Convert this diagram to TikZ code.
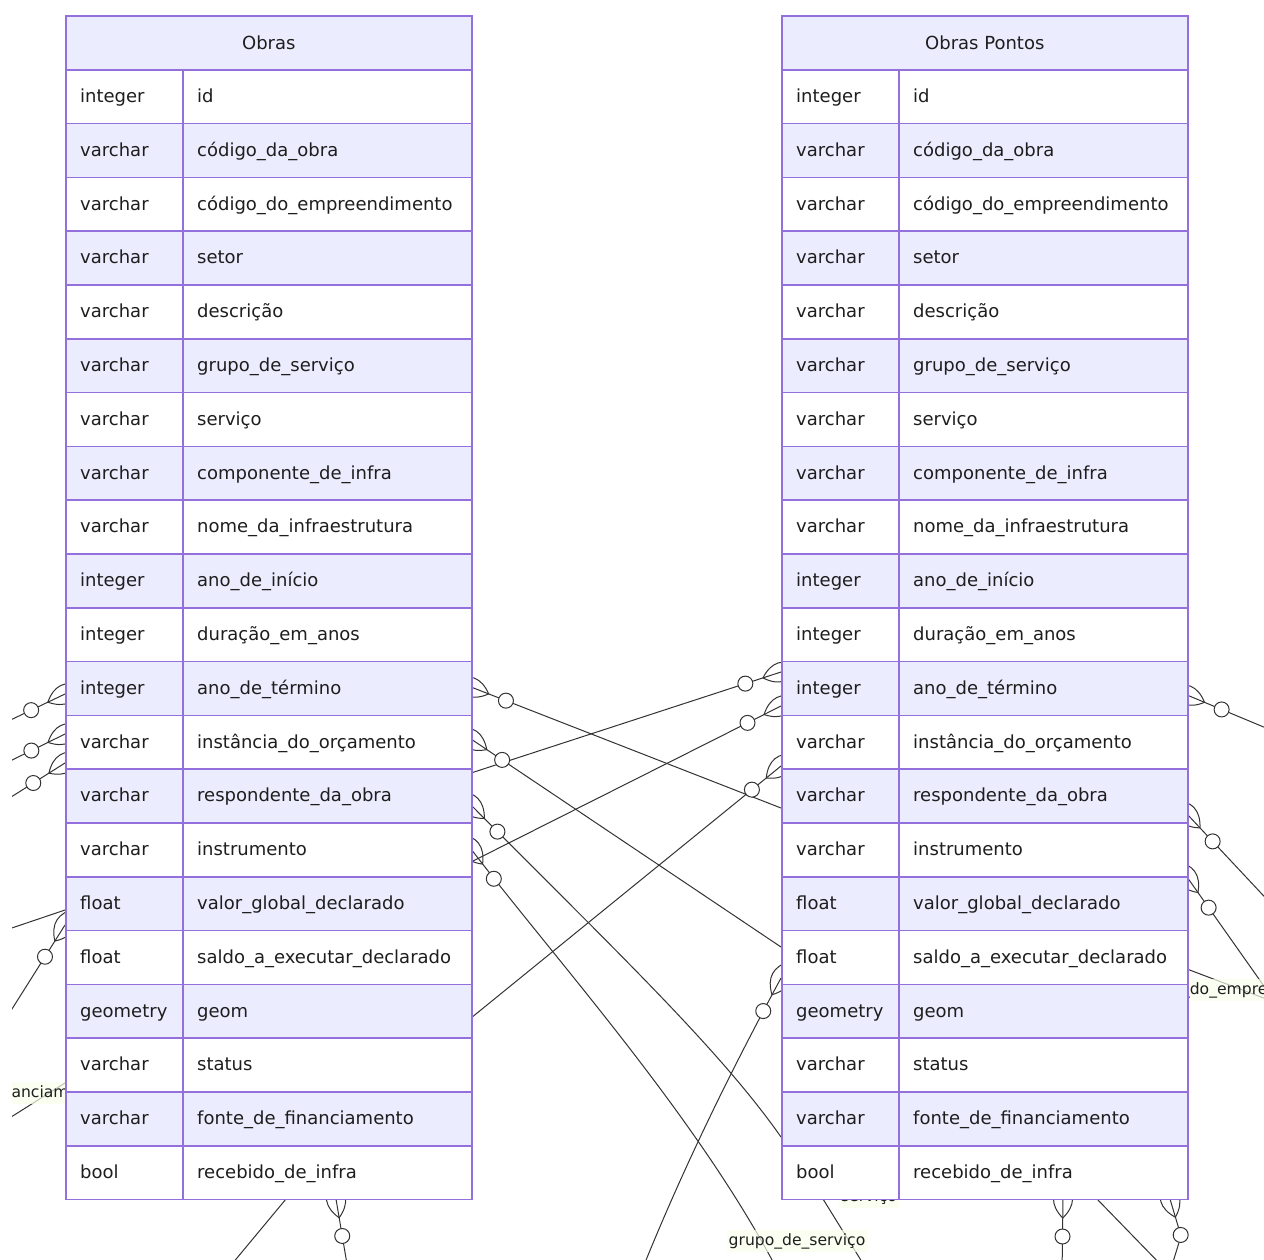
\documentclass[tikz,border=0pt]{standalone}
\usepackage{fontspec}
\setmainfont{DejaVu Sans}
\usetikzlibrary{calc}
\definecolor{erborder}{HTML}{9370DB}
\definecolor{erlav}{HTML}{ECECFF}
\definecolor{erline}{HTML}{333333}
\definecolor{erlbl}{HTML}{F9FFEC}
\definecolor{ertext}{HTML}{1E1E1E}
\tikzset{
  conn/.style={draw=erline, line width=1pt},
  cellbox/.style={draw=erborder, line width=1.6pt, anchor=north west, inner sep=0pt, minimum height=53.8pt},
  celltext/.style={anchor=base west, inner sep=0pt, text=ertext, font=\fontsize{18}{22}\selectfont},
  hdrbox/.style={draw=erborder, fill=erlav, line width=1.6pt, anchor=north west, minimum width=406pt, minimum height=54pt, inner sep=0pt, text=ertext, font=\fontsize{18}{22}\selectfont},
  lbl/.style={fill=erlbl, fill opacity=0.7, text opacity=1, inner xsep=2pt, inner ysep=3.5pt, text height=11.5pt, text depth=3.5pt, text=ertext, font=\fontsize{15.6}{19}\selectfont},
  lens/.pic={\draw[conn] (-19,0) .. controls (-6.33,12.67) and (6.33,12.67) .. (19,0) .. controls (6.33,-12.67) and (-6.33,-12.67) .. (-19,0);}
}
\newcommand\ercoord[3]{\coordinate (#1) at (#2,-#3);}
\newcommand\zomark[2]{\path let \p1=(#1), \p2=(#2), \n1={atan2(\y2-\y1,\x2-\x1)} in (#1) pic[rotate=\n1]{lens};}
\newcommand\zocirc[2]{\draw[conn,fill=white] ($(#1)!37.5pt!(#2)$) circle[radius=7.5pt];}
\newcommand\errows{integer/id, varchar/código\_da\_obra, varchar/código\_do\_empreendimento, varchar/setor, varchar/descrição, varchar/grupo\_de\_serviço, varchar/serviço, varchar/componente\_de\_infra, varchar/nome\_da\_infraestrutura, integer/ano\_de\_início, integer/duração\_em\_anos, integer/ano\_de\_término, varchar/instância\_do\_orçamento, varchar/respondente\_da\_obra, varchar/instrumento, float/valor\_global\_declarado, float/saldo\_a\_executar\_declarado, geometry/geom, varchar/status, varchar/fonte\_de\_financiamento, bool/recebido\_de\_infra}
\newcommand\ertable[3]{%
  \node[hdrbox] (#1h) at (#2,-15) {#3};
  \foreach \ty/\nm [count=\i from 0] in \errows {%
    \ifodd\i\relax \def\rowfill{erlav}\else \def\rowfill{white}\fi
    \node[cellbox, fill=\rowfill, minimum width=117pt] (#1t\i) at (#2,{-69-53.8*\i}) {};
    \node[cellbox, fill=\rowfill, minimum width=289pt] (#1n\i) at (#2+117,{-69-53.8*\i}) {};
    \node[celltext] (#1tt\i) at ([xshift=15pt,yshift=-5.8pt]#1t\i.west) {\ty};
    \node[celltext] (#1nt\i) at ([xshift=15pt,yshift=-5.8pt]#1n\i.west) {\nm};
  }%
}
\begin{document}
\begin{tikzpicture}[x=1pt,y=1pt]
\useasboundingbox (0,0) rectangle (1264,-1259);
\fill[white] (0,0) rectangle (1264,-1259);
% attachment and free-end coordinates
\ercoord{a1}{65}{694} \ercoord{f1}{0}{725}
\ercoord{a2}{65}{734} \ercoord{f2}{0}{766}
\ercoord{a3}{65}{763} \ercoord{f3}{0}{804}
\ercoord{a4}{65}{910} \ercoord{f4}{0}{932}
\ercoord{a5}{65}{925} \ercoord{f5}{0}{1028}
\ercoord{a6}{65}{1083} \ercoord{f6}{0}{1124}
\ercoord{a7}{286}{1199} \ercoord{f7}{227}{1270}
\ercoord{a8}{336}{1199} \ercoord{f8}{348}{1270}
\ercoord{b9}{471}{687} \ercoord{r9}{781}{808}
\ercoord{b10}{471}{739} \ercoord{r10}{781}{947}
\ercoord{b11}{471}{805} \ercoord{r11}{781}{1137}
\ercoord{b12}{471}{849} \ercoord{f12}{780}{1275}
\ercoord{b13}{471}{773} \ercoord{r13}{781}{672}
\ercoord{b14}{471}{862} \ercoord{r14}{781}{706}
\ercoord{b15}{471}{1018} \ercoord{r15}{781}{766}
\ercoord{r17}{781}{978} \ercoord{f17}{640}{1275}
\ercoord{r18}{823}{1199} \ercoord{f18}{867}{1270}
\ercoord{c19}{1187}{695} \ercoord{f19}{1290}{738}
\ercoord{c20}{1187}{814} \ercoord{f20}{1290}{924}
\ercoord{c21}{1187}{877} \ercoord{f21}{1290}{1023}
\ercoord{c22}{1187}{969} \ercoord{f22}{1290}{1008}
\ercoord{c23}{1063}{1199} \ercoord{f23}{1062}{1275}
\ercoord{c24}{1097}{1199} \ercoord{f24}{1166}{1270}
\ercoord{c25}{1170}{1199} \ercoord{k25}{1181}{1236} \ercoord{f25}{1169}{1275}
\begin{scope}
\clip (12,0) rectangle (1264,-1259);
% connectors
\draw[conn] (a1) -- (f1); \zomark{a1}{f1}
\draw[conn] (a2) -- (f2); \zomark{a2}{f2}
\draw[conn] (a3) -- (f3); \zomark{a3}{f3}
\draw[conn] (a4) -- (f4);
\draw[conn] (a5) -- (f5); \zomark{a5}{f5}
\draw[conn] (a6) -- (f6);
\draw[conn] (a7) -- (f7);
\draw[conn] (a8) -- (f8); \zomark{a8}{f8}
\draw[conn] (b9) -- (r9); \zomark{b9}{r9}
\draw[conn] (b10) -- (r10); \zomark{b10}{r10}
\draw[conn] (b11) .. controls (620,-955) and (720,-1050) .. (r11); \zomark{b11}{620,-955}
\draw[conn] (b12) .. controls (560,-965) and (700,-1120) .. (f12); \zomark{b12}{560,-965}
\draw[conn] (b13) -- (r13); \zomark{r13}{b13}
\draw[conn] (b14) -- (r14); \zomark{r14}{b14}
\draw[conn] (b15) -- (r15); \zomark{r15}{b15}
\draw[conn] (r17) .. controls (745,-1045) and (690,-1150) .. (f17); \zomark{r17}{745,-1045}
\draw[conn] (r18) -- (f18);
\draw[conn] (c19) -- (f19); \zomark{c19}{f19}
\draw[conn] (c20) -- (f20); \zomark{c20}{f20}
\draw[conn] (c21) -- (f21); \zomark{c21}{f21}
\draw[conn] (c22) -- (f22);
\draw[conn] (c23) -- (f23); \zomark{c23}{f23}
\draw[conn] (c24) -- (f24);
\draw[conn] (c25) -- (k25) -- (f25); \zomark{c25}{k25}
% relationship labels
\node[lbl, anchor=east] (lfin) at (106,-1093) {fonte\_de\_financiamento};
\node[lbl, anchor=west] (lemp) at (1128,-990) {código\_do\_empreendimento};
\node[lbl] (lgrp) at (797,-1241) {grupo\_de\_serviço};
\node[lbl] (lsrv) at (869,-1197) {serviço};
% circles
\zocirc{a1}{f1} \zocirc{a2}{f2} \zocirc{a3}{f3} \zocirc{a5}{f5} \zocirc{a8}{f8}
\zocirc{b9}{r9} \zocirc{b10}{r10} \zocirc{b11}{620,-955} \zocirc{b12}{560,-965}
\zocirc{r13}{b13} \zocirc{r14}{b14} \zocirc{r15}{b15} \zocirc{r17}{745,-1045}
\zocirc{c19}{f19} \zocirc{c20}{f20} \zocirc{c21}{f21} \zocirc{c23}{f23} \zocirc{c25}{k25}
\end{scope}
% tables
\ertable{o}{65}{Obras}
\ertable{p}{781}{Obras Pontos}
\end{tikzpicture}
\end{document}
